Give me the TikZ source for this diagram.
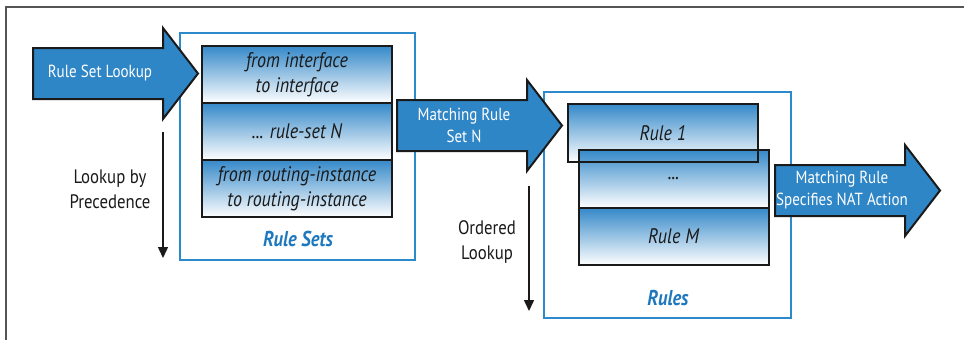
\documentclass[tikz,border=0pt]{standalone}
\usepackage{fontspec}
\setmainfont{PT Sans}[FakeStretch=0.86]
\usepackage{xcolor}
\usepackage{tikz}
\usetikzlibrary{arrows.meta,positioning,calc}
\definecolor{arrowblue}{HTML}{2F86C6}
\definecolor{frameblue}{HTML}{2C8ACB}
\definecolor{labelblue}{HTML}{1E78BE}
\definecolor{shadetop}{HTML}{3589C9}
\definecolor{ink}{HTML}{1A1A1A}
\definecolor{pagerule}{HTML}{555555}

% block arrow: name, left x, centre y, text
\newcommand{\natarrow}[4]{%
  \draw[blockarr] (#2,#3-25.5) -- ++(130,0) -- ++(0,-20) -- (#2+165,#3)
    -- (#2+130,#3+45.5) -- ++(0,-20) -- (#2,#3+25.5) -- cycle;
  \node[arrtext] (#1) at (#2+67,#3) {#4};}

\begin{document}
\begin{tikzpicture}[x=1pt,y=-1pt,
  frame/.style={draw=frameblue,line width=2pt},
  cell/.style={top color=shadetop,bottom color=white,minimum width=190pt,
               minimum height=57pt,inner sep=2pt,outer sep=0pt,align=center,
               font=\fontsize{21}{25}\selectfont\itshape,text=ink},
  blockarr/.style={fill=arrowblue,draw=ink,line width=2pt,line join=miter},
  arrtext/.style={text=white,align=center,font=\fontsize{17.5}{22}\selectfont},
  side/.style={align=center,text=ink,font=\fontsize{19.5}{25}\selectfont},
  title/.style={text=labelblue,font=\fontsize{21.5}{24}\selectfont\bfseries\itshape},
  down/.style={-{Triangle[length=11pt,width=10pt]},draw=ink,line width=1.5pt}
]
\useasboundingbox (0,0) rectangle (964,340);
\draw[pagerule,line width=1.5pt] (6,340) -- (6,7) -- (964,7);

% rule sets
\draw[frame] (180,33) rectangle (415,260);
\node[cell] (rs1) at (297,74.5) {from interface\\to interface};
\node[cell,below=0pt of rs1] (rs2) {... rule-set N};
\node[cell,below=0pt of rs2] (rs3) {from routing-instance\\to routing-instance};
\foreach \n in {rs1,rs2,rs3}
  \draw[ink,line width=2pt] (\n.south west) rectangle (\n.north east);
\node[title] (ruleset) at (298,239) {Rule Sets};

% rules
\draw[frame] (544,92) rectangle (791,318);
\node[cell,minimum height=58pt] (r1) at (663,133) {Rule 1};
\node[cell,minimum height=58pt] (r2) at (673.5,179) {...};
\node[cell,below=0pt of r2] (rm) {Rule M};
\foreach \n in {r1,r2,rm}
  \draw[ink,line width=2pt] (\n.south west) rectangle (\n.north east);
\node[title] (rules) at (668,298) {Rules};

% block arrows
\natarrow{lookup}{33}{73.5}{Rule Set Lookup}
\natarrow{match}{397}{125.5}{Matching Rule\\Set N}
\natarrow{action}{775}{190.5}{Matching Rule\\Specifies NAT Action}

% lookup order
\node[side] (prec) at (110,189) {Lookup by\\Precedence};
\coordinate (p0) at (163,132);
\coordinate (p1) at (163,258);
\draw[down] (p0) -- (p1);
\node[side] (order) at (487,242) {Ordered\\Lookup};
\coordinate (o0) at (529,186);
\coordinate (o1) at (529,311);
\draw[down] (o0) -- (o1);
\end{tikzpicture}
\end{document}
